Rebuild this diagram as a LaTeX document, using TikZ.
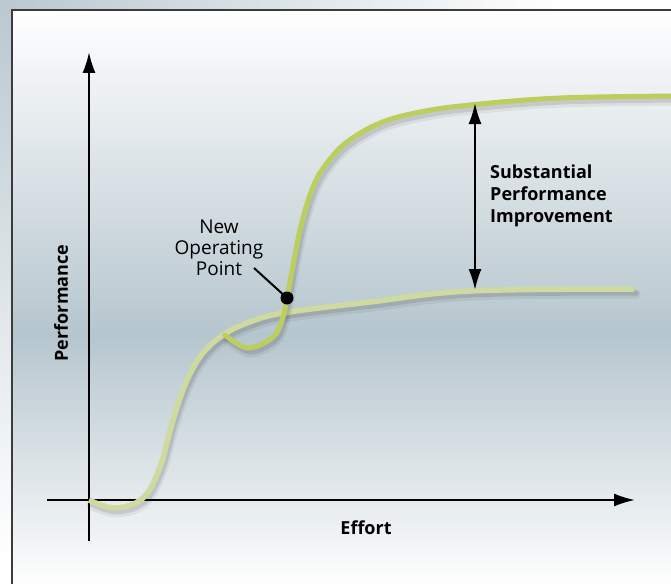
\documentclass[tikz,border=0pt]{standalone}
\usepackage{fontspec}
\setmainfont{Open Sans}
\usepackage{tikz}
\usetikzlibrary{calc, arrows.meta, positioning}

\definecolor{outergray}{RGB}{186,200,208}
\definecolor{panelmid}{RGB}{182,198,206}
\definecolor{framegray}{RGB}{60,60,60}
\definecolor{highcurve}{RGB}{188,207,94}
\definecolor{lowcurve}{RGB}{206,218,160}

\pgfdeclareverticalshading{panel}{100bp}{color(0bp)=(white); color(25bp)=(white);
  color(47bp)=(panelmid); color(75bp)=(white); color(100bp)=(white)}

\tikzset{
  axis/.style={->, line width=2pt},
  softshadow/.style={line width=9pt, black, opacity=0.06, line cap=round},
  curveshadow/.style={line width=5pt, black, opacity=0.1, line cap=round},
  lowline/.style={line width=5.5pt, lowcurve, line cap=butt},
  highline/.style={line width=5pt, highcurve, line cap=round},
  axislabel/.style={font=\bfseries\fontsize{18}{22}\selectfont, inner sep=0pt},
  note/.style={font=\fontsize{19}{21}\selectfont, inner sep=0pt, align=center}
}

\begin{document}
\begin{tikzpicture}[x=1pt, y=-1pt, >={Latex[length=21pt,width=13pt]}]
\useasboundingbox (0,0) rectangle (671,583);
% background
\begin{scope}
\clip (0,0) rectangle (671,583);
\fill[white] (0,0) rectangle (671,583);
\shade[inner color=outergray, outer color=white] (0,0) circle (560);
\end{scope}
\shade[shading=panel] (12,10) rectangle (676,590);
\draw[framegray, line width=1.5pt] (12,10) rectangle (676,590);

% axes
\coordinate (O) at (89,500);
\coordinate (xstart) at (47,500);
\coordinate (xend) at (635,500);
\coordinate (ystart) at (89,541);
\coordinate (yend) at (89,52);
\draw[axis] (xstart) -- (xend);
\draw[axis] (ystart) -- (yend);
\node[axislabel] (effort) at (366,528) {Effort};
\node[axislabel, rotate=90] (perf) at (61,303) {Performance};

% old curve
\def\lowpath{plot[smooth, tension=0.6] coordinates {(89,500) (115,508) (143,498)
  (160,467) (173,420) (187,380) (203,353) (223,335) (247,323) (283,313)
  (370,302) (470,291) (634,289)}}
\draw[softshadow, shift={(2,5)}] \lowpath;
\draw[curveshadow, shift={(2,4)}] \lowpath;
\draw[lowline] \lowpath;

% new curve
\def\highpath{plot[smooth, tension=0.6] coordinates {(225,335) (248,348)
  (273,337) (282,320) (287,298) (300,230) (313,187) (327,163) (347,142)
  (380,123) (420,112) (470,105) (560,98) (680,96)}}
\draw[softshadow, shift={(2,5)}] \highpath;
\draw[curveshadow, shift={(2,4)}] \highpath;
\draw[highline] \highpath;

% operating point
\node[circle, fill=black, minimum size=13pt, inner sep=0pt] (opdot) at (287,298) {};
\node[note] (newop) at (219,248) {New\\Operating\\Point};
\coordinate (leader) at (254,268);
\draw[line width=2pt] (leader) -- (opdot.center);

% improvement
\coordinate (gaptop) at (475,103);
\coordinate (gapbot) at (475,290);
\draw[<->, line width=2pt] (gaptop) -- (gapbot);
\node[axislabel, align=left, anchor=west] (gain) at (490,196)
  {Substantial\\Performance\\Improvement};
\end{tikzpicture}
\end{document}
